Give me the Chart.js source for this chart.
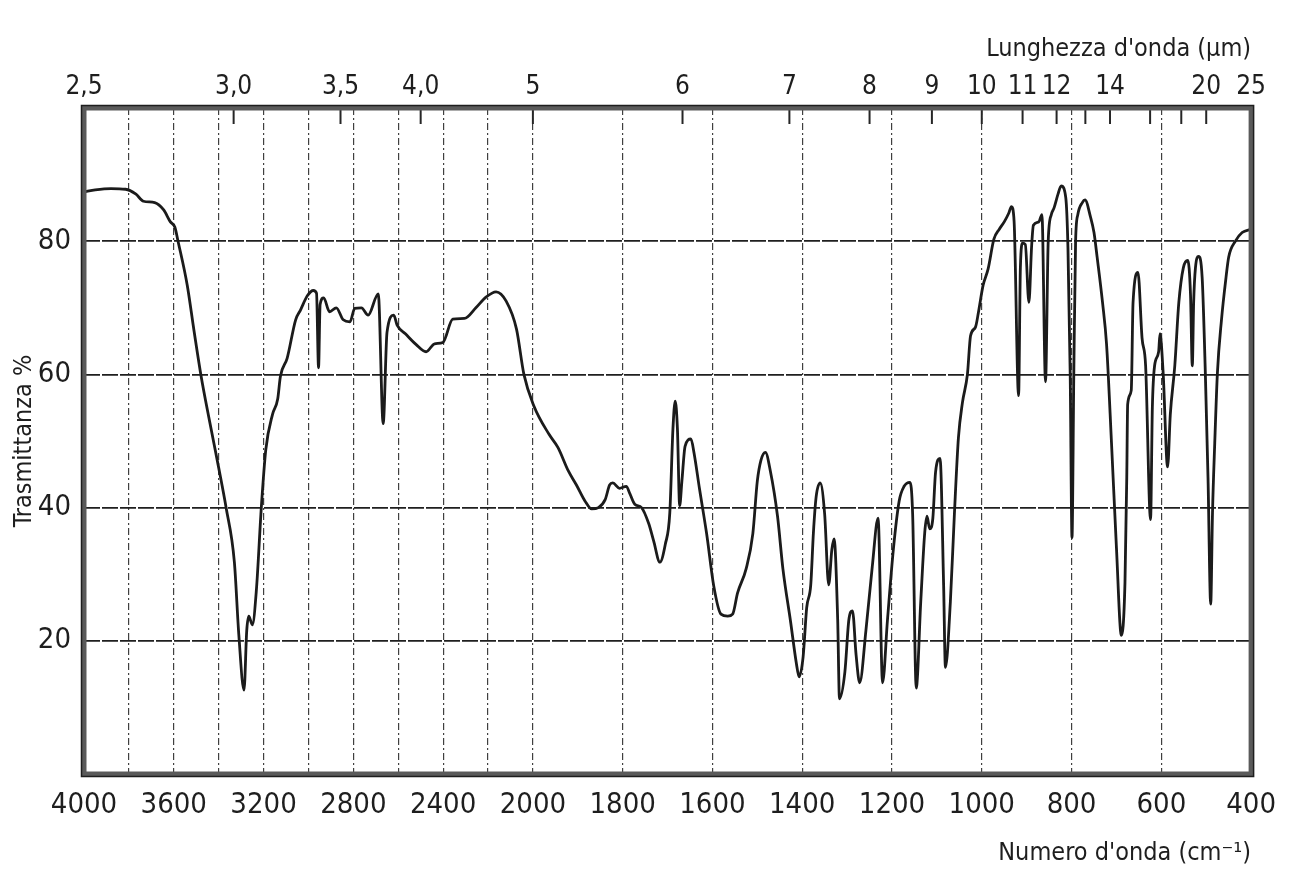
<!DOCTYPE html>
<html lang="it">
<head>
<meta charset="utf-8">
<title>Spettro IR</title>
<script src="https://cdn.jsdelivr.net/npm/chart.js@4.4.1/dist/chart.umd.min.js"></script>
<style>
  html, body { margin: 0; padding: 0; background: #fff; }
</style>
</head>
<body>
<canvas id="irChart" width="1290" height="877"></canvas>
<script>
// --- DATI DELLO SPETTRO ---
const numeriOnda = [
  4000, 3950, 3880, 3815, 3770, 3735, 3685, 3645, 3615, 3595, 3581, 3540, 3510, 3478, 3440, 3400,
  3367, 3330, 3310, 3287, 3275, 3266, 3250, 3232, 3210, 3190, 3160, 3137, 3125, 3095, 3057, 3035,
  3005, 2978, 2964, 2955, 2948, 2932, 2906, 2876, 2845, 2815, 2794, 2764, 2734, 2689, 2667, 2650,
  2620, 2605, 2568, 2521, 2476, 2438, 2401, 2357, 2305, 2254, 2209, 2164, 2119, 2073, 2040, 1998,
  1964, 1944, 1921, 1903, 1884, 1869, 1854, 1839, 1829, 1822, 1807, 1792, 1784, 1773, 1758, 1742,
  1731, 1717, 1705, 1695, 1688, 1683, 1678, 1673, 1668, 1661, 1648, 1641, 1629, 1613, 1597, 1581,
  1566, 1555, 1544, 1525, 1510, 1500, 1492, 1482, 1471, 1455, 1443, 1426, 1413, 1407, 1398, 1390,
  1381, 1375, 1369, 1360, 1350, 1341, 1334, 1329, 1321, 1317, 1305, 1296, 1288, 1280, 1272, 1258,
  1244, 1231, 1221, 1210, 1197, 1184, 1173, 1160, 1154, 1146, 1136, 1127, 1122, 1116, 1109, 1103,
  1093, 1085, 1081, 1070, 1061, 1052, 1043, 1032, 1025, 1014, 1007, 997, 986, 973, 961, 950,
  940, 934, 928, 918, 914, 909, 903, 895, 889, 885, 873, 866, 858, 852, 845, 839,
  830, 823, 813, 808, 803, 799, 795, 791, 786, 776, 770, 758, 750, 743, 731, 722,
  711, 700, 689, 681, 677, 675, 667, 663, 652, 643, 635, 624, 620, 615, 606, 603,
  596, 586, 580, 570, 561, 551, 541, 535, 531, 528, 524, 517, 509, 502, 496, 490,
  486, 481, 475, 466, 456, 450, 435, 420, 400
];
const trasmittanza = [
  87.4, 87.7, 87.9, 87.8, 87.1, 86.0, 85.8, 84.7, 82.9, 82.1, 80.0, 73.4, 66.6, 59.7, 52.9, 46.0,
  40.0, 31.8, 20.8, 12.6, 21.5, 23.7, 22.4, 27.6, 40.0, 48.7, 54.0, 56.3, 59.7, 62.4, 68.2, 69.7,
  71.8, 72.6, 72.2, 61.0, 70.5, 71.5, 69.4, 70.0, 68.2, 67.9, 69.9, 70.0, 68.9, 72.1, 52.6, 66.3,
  68.9, 67.4, 66.1, 64.5, 63.4, 64.6, 64.8, 68.3, 68.4, 70.0, 71.6, 72.4, 71.0, 66.8, 60.0, 55.3,
  51.0, 49.0, 45.5, 43.4, 41.0, 39.8, 40.0, 41.2, 43.4, 43.7, 42.9, 43.2, 42.1, 40.5, 40.0, 37.6,
  35.0, 31.8, 34.5, 39.2, 51.8, 56.0, 51.8, 40.3, 44.0, 49.2, 50.3, 48.2, 42.9, 36.1, 28.2, 24.0,
  23.7, 24.0, 27.2, 30.8, 36.1, 44.0, 47.1, 48.3, 45.5, 38.7, 30.8, 22.9, 16.6, 14.6, 17.6, 25.0,
  28.4, 36.3, 41.6, 43.7, 39.0, 28.4, 33.7, 35.3, 23.2, 11.3, 15.3, 23.2, 24.5, 17.9, 13.7, 21.6,
  31.1, 38.4, 13.7, 23.2, 33.7, 41.0, 43.2, 43.8, 39.0, 12.9, 25.8, 36.3, 38.7, 36.8, 38.4, 45.3,
  47.4, 28.4, 16.0, 25.8, 39.0, 50.5, 55.8, 60.0, 65.8, 67.1, 69.5, 73.4, 75.8, 80.3, 81.8, 82.9,
  84.2, 85.2, 83.0, 56.8, 76.0, 79.7, 79.5, 70.8, 79.2, 82.4, 82.9, 84.0, 58.9, 80.0, 84.0, 85.0,
  87.1, 88.3, 86.6, 79.0, 60.0, 35.5, 60.0, 80.0, 84.0, 85.8, 86.2, 83.7, 81.3, 77.6, 70.8, 64.5,
  49.7, 34.0, 20.8, 28.7, 44.5, 55.5, 57.6, 70.8, 75.3, 65.5, 61.3, 38.2, 55.0, 61.3, 63.4, 66.1,
  60.3, 46.1, 54.0, 61.3, 70.8, 76.0, 77.1, 72.0, 61.3, 70.8, 76.0, 77.7, 74.5, 60.3, 44.5, 25.5,
  39.2, 49.7, 60.3, 68.2, 74.5, 77.6, 80.0, 81.3, 81.8
];

// griglia verticale ogni 200 cm-1, etichette in basso
const tickNumeroOnda = [4000, 3800, 3600, 3400, 3200, 3000, 2800, 2600, 2400, 2200, 2000,
  1800, 1600, 1400, 1200, 1000, 800, 600, 400];
const etichetteBasse = [4000, 3600, 3200, 2800, 2400, 2000, 1800, 1600, 1400, 1200, 1000, 800, 600, 400];

// scala superiore in micrometri
const lunghezzeOnda = [2.5, 3, 3.5, 4, 5, 6, 7, 8, 9, 10, 11, 12, 13, 14, 16, 18, 20, 25];
const etichetteAlte = ['2,5', '3,0', '3,5', '4,0', '5', '6', '7', '8', '9', '10', '11', '12', '', '14', '', '', '20', '25'];

const tickTrasmittanza = [0, 20, 40, 60, 80, 100];

const FONT = "'Liberation Sans Narrow', 'Arial Narrow', 'DejaVu Sans Condensed', sans-serif";

// --- SCALA IR: 4000-2000 a mezza scala, 2000-400 a scala piena ---
function decimaleDaNumeroOnda(v) {
  const unita = v >= 2000 ? (4000 - v) / 200 : 10 + (2000 - v) / 100;
  return unita / 26;
}
function numeroOndaDaDecimale(d) {
  const unita = d * 26;
  return unita <= 10 ? 4000 - unita * 200 : 2000 - (unita - 10) * 100;
}
class ScalaIR extends Chart.LinearScale {
  getPixelForValue(value) {
    if (value === null || value === undefined || isNaN(value)) return NaN;
    return this.getPixelForDecimal(decimaleDaNumeroOnda(value));
  }
  getValueForPixel(pixel) {
    return numeroOndaDaDecimale(this.getDecimalForPixel(pixel));
  }
}
ScalaIR.id = 'ir';
ScalaIR.defaults = Chart.LinearScale.defaults;
Chart.register(ScalaIR);

// cornice spessa e tacche della scala in micrometri
const cornice = {
  id: 'cornice',
  afterDraw(chart) {
    const { ctx, chartArea: a, scales } = chart;
    ctx.save();
    ctx.strokeStyle = '#262626';
    ctx.lineWidth = 2;
    scales.x2.ticks.forEach(t => {
      const px = scales.x2.getPixelForValue(t.value);
      ctx.beginPath();
      ctx.moveTo(px, a.top);
      ctx.lineTo(px, a.top + 16);
      ctx.stroke();
    });
    ctx.lineWidth = 5;
    ctx.strokeStyle = '#5a5a5a';
    ctx.strokeRect(a.left, a.top, a.right - a.left, a.bottom - a.top);
    ctx.lineWidth = 1.5;
    ctx.strokeStyle = '#1e1e1e';
    ctx.strokeRect(a.left - 2.5, a.top - 2.5, a.right - a.left + 5, a.bottom - a.top + 5);
    ctx.restore();
  }
};

const ctx = document.getElementById('irChart').getContext('2d');
new Chart(ctx, {
  type: 'line',
  data: {
    datasets: [{
      data: numeriOnda.map((v, i) => ({ x: v, y: trasmittanza[i] })),
      borderColor: '#1b1b1b',
      borderWidth: 2.8,
      pointRadius: 0,
      fill: false,
      cubicInterpolationMode: 'monotone'
    }]
  },
  options: {
    responsive: false,
    animation: false,
    devicePixelRatio: 1,
    layout: { padding: { left: 0, right: 38, top: 0, bottom: 0 } },
    plugins: { legend: { display: false }, tooltip: { enabled: false } },
    scales: {
      x: {
        type: 'ir', position: 'bottom', min: 400, max: 4000,
        afterBuildTicks: s => { s.ticks = tickNumeroOnda.map(v => ({ value: v })); },
        afterFit: s => { s.height = 103; },
        ticks: {
          autoSkip: false, maxRotation: 0, padding: 14, color: '#1e1e1e',
          font: { family: FONT, size: 29 },
          callback: v => etichetteBasse.includes(v) ? String(v) : ''
        },
        grid: { color: '#404040', lineWidth: 1.2, drawTicks: false },
        border: { display: false, dash: [7, 3, 2, 3] },
        title: {
          display: true, text: "Numero d'onda (cm⁻¹)", align: 'end', color: '#1e1e1e',
          font: { family: FONT, size: 25 }, padding: { top: 0, bottom: 9 }
        }
      },
      x2: {
        type: 'ir', position: 'top', min: 400, max: 4000,
        afterBuildTicks: s => { s.ticks = lunghezzeOnda.map(l => ({ value: 10000 / l })); },
        afterFit: s => { s.height = 108; },
        ticks: {
          autoSkip: false, maxRotation: 0, padding: 5, color: '#1e1e1e',
          font: { family: FONT, size: 26 },
          callback: (v, i) => etichetteAlte[i]
        },
        grid: { display: false, drawTicks: false },
        border: { display: false },
        title: {
          display: true, text: "Lunghezza d'onda (µm)", align: 'end', color: '#1e1e1e',
          font: { family: FONT, size: 25 }, padding: { top: 34, bottom: 0 }
        }
      },
      y: {
        min: 0, max: 100,
        afterBuildTicks: s => { s.ticks = tickTrasmittanza.map(v => ({ value: v })); },
        afterFit: s => { s.width = 84; },
        ticks: {
          padding: 13, color: '#1e1e1e', font: { family: FONT, size: 29 },
          callback: v => (v === 0 || v === 100) ? '' : String(v)
        },
        grid: { color: '#1f1f1f', lineWidth: 1.8, drawTicks: false },
        border: { display: false, dash: [16, 2] },
        title: {
          display: true, text: 'Trasmittanza %', color: '#1e1e1e',
          font: { family: FONT, size: 25 }, padding: { top: 9, bottom: 0 }
        }
      }
    }
  },
  plugins: [cornice]
});
</script>
</body>
</html>
